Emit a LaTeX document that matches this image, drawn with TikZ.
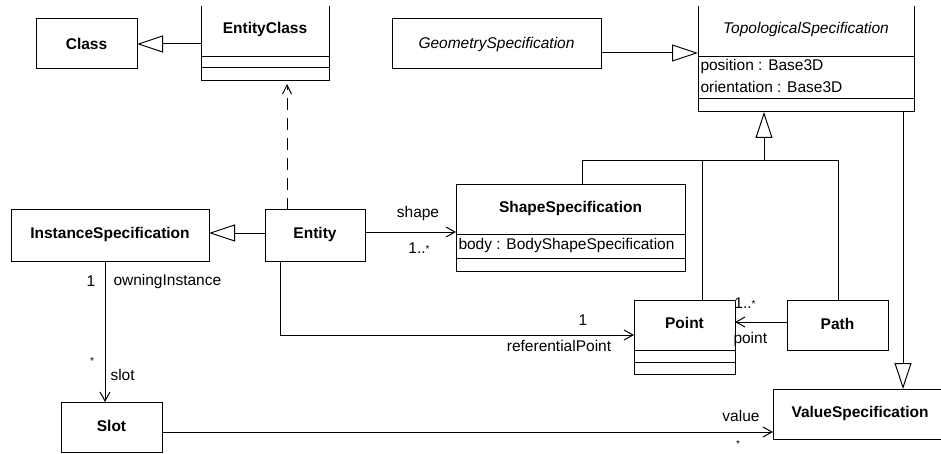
\documentclass[tikz,border=0pt]{standalone}
\usepackage{fontspec}
\setmainfont{Liberation Sans}
\usetikzlibrary{arrows.meta}
\newcommand{\mystar}{\raisebox{1pt}{\fontsize{10}{10}\selectfont *}}
\begin{document}
\begin{tikzpicture}[x=1pt,y=-1pt,line width=1pt,
  font=\fontsize{15.5}{18}\selectfont,
  cls/.style={draw,rectangle,inner sep=0pt,outer sep=0pt},
  ttl/.style={inner sep=0pt,font=\fontsize{15.5}{18}\selectfont\bfseries},
  ttli/.style={inner sep=0pt,font=\fontsize{15.5}{18}\selectfont\itshape},
  attr/.style={inner sep=0pt,anchor=west},
  lab/.style={inner sep=0pt},
  gen/.style={-{Triangle[open,length=26pt,width=17pt]}},
  assoc/.style={-{Straight Barb[length=9pt,width=10pt]}},
  dep/.style={dash pattern=on 12pt off 8pt,-{Straight Barb[length=9pt,width=9pt]}}]
\useasboundingbox (0,0) rectangle (941,454);
\clip (0,7) rectangle (941,454);

% classes
\node[cls,minimum width=101pt,minimum height=50pt] (class) at (86.5,44) {};
\node[ttl] (classT) at (86.5,44) {Class};

\node[cls,minimum width=128pt,minimum height=80pt] (ec) at (265,41) {};
\node[ttl] (ecT) at (265,29) {EntityClass};
\draw (ec.west |- 0,57) -- (ec.east |- 0,57);
\draw (ec.west |- 0,68) -- (ec.east |- 0,68);

\node[cls,minimum width=209pt,minimum height=50pt] (geo) at (496.5,44) {};
\node[ttli] (geoT) at (496.5,44) {GeometrySpecification};

\node[cls,minimum width=216pt,minimum height=111pt] (topo) at (806,56.5) {};
\node[ttli] (topoT) at (806,29) {TopologicalSpecification};
\draw (topo.west |- 0,57) -- (topo.east |- 0,57);
\draw (topo.west |- 0,99) -- (topo.east |- 0,99);
\node[attr] (topoA1) at (700,66) {position : Base3D};
\node[attr] (topoA2) at (700,87) {orientation : Base3D};

\node[cls,minimum width=198pt,minimum height=51pt] (inst) at (110,235.5) {};
\node[ttl] (instT) at (110,234) {InstanceSpecification};

\node[cls,minimum width=100pt,minimum height=51pt] (ent) at (315,235.5) {};
\node[ttl] (entT) at (315,234) {Entity};

\node[cls,minimum width=229pt,minimum height=86pt] (ss) at (570.5,228) {};
\node[ttl] (ssT) at (570.5,208) {ShapeSpecification};
\draw (ss.west |- 0,234) -- (ss.east |- 0,234);
\draw (ss.west |- 0,258) -- (ss.east |- 0,258);
\node[attr] (ssA) at (458,245.5) {body : BodyShapeSpecification};

\node[cls,minimum width=101pt,minimum height=74pt] (pt) at (684.5,337) {};
\node[ttl] (ptT) at (684.5,323) {Point};
\draw (pt.west |- 0,350) -- (pt.east |- 0,350);
\draw (pt.west |- 0,362) -- (pt.east |- 0,362);

\node[cls,minimum width=101pt,minimum height=50pt] (path) at (837.5,325) {};
\node[ttl] (pathT) at (837.5,324) {Path};

\node[cls,minimum width=101pt,minimum height=50pt] (slot) at (111.5,427) {};
\node[ttl] (slotT) at (111.5,426) {Slot};

\node[cls,minimum width=174pt,minimum height=50pt] (vs) at (860,414) {};
\node[ttl] (vsT) at (860,413) {ValueSpecification};

% generalizations
\draw[gen] (ec.west |- class.east) -- (class.east);
\draw[gen] (geo.east |- 0,53) -- (topo.west |- 0,53);
\draw[gen] (ent.west |- 0,233) -- (inst.east |- 0,233);
\coordinate (j) at (764,161);
\coordinate (jl) at (582,161);
\coordinate (jm) at (702,161);
\coordinate (jr) at (838,161);
\draw[gen] (j) -- (topo.south -| j);
\draw (ss.north -| jl) -- (jl) -- (jr) -- (path.north -| jr);
\draw (pt.north -| jm) -- (jm);
\draw[gen] (topo.south -| 903,0) -- (vs.north -| 903,0);

% dependency
\draw[dep,shorten >=3pt] (ent.north -| 287,0) -- (ec.south -| 287,0);

% associations
\draw[assoc] (ent.east |- 0,232) -- (ss.west |- 0,232);
\node[lab] (lshape) at (418,213) {shape};
\node[lab] (lshapem) at (419,248) {1..\mystar};

\draw[assoc] (ent.south -| 280,0) |- (pt.west |- 0,335);
\node[lab] (lref1) at (583,320) {1};
\node[lab] (lref) at (559,346) {referentialPoint};

\draw[assoc] (path.west |- 0,322) -- (pt.east |- 0,322);
\node[lab] (lpointm) at (745,303) {1..\mystar};
\node[lab,anchor=west] (lpoint) at (733,339) {point};

\draw[assoc] (inst.south -| 105,0) -- (slot.north -| 105,0);
\node[lab] (lown1) at (91,281) {1};
\node[lab,anchor=west] (lown) at (113,281) {owningInstance};
\node[lab] (lslotm) at (92,362) {\mystar};
\node[lab,anchor=west] (lslot) at (110,375) {slot};

\draw[assoc] (slot.east |- 0,432) -- (vs.west |- 0,432);
\node[lab] (lvalue) at (741,416) {value};
\node[lab] (lvaluem) at (738,445) {\mystar};
\end{tikzpicture}
\end{document}
